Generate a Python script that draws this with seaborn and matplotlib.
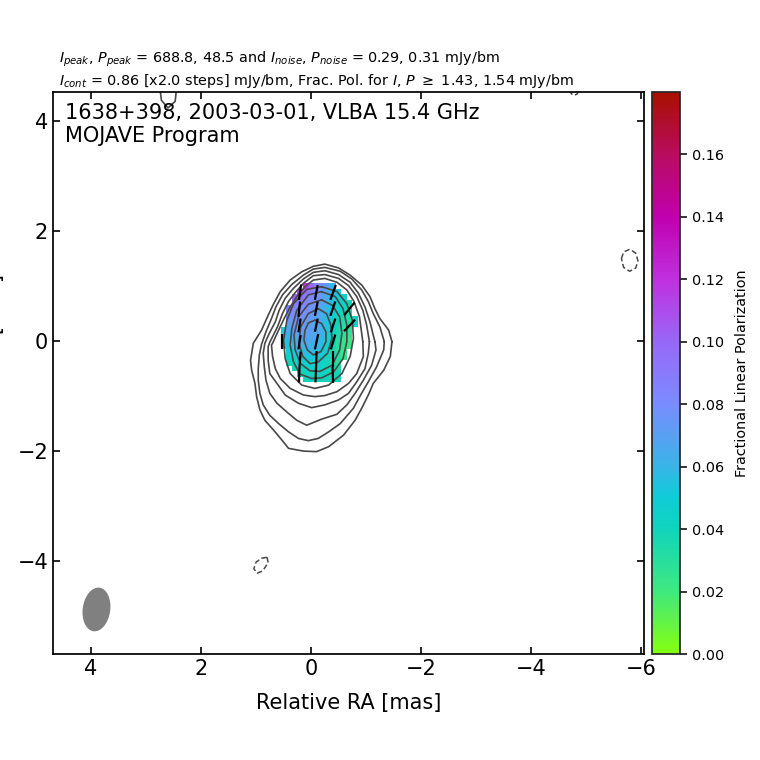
import numpy as np
import pandas as pd
import matplotlib
matplotlib.use('Agg')
import matplotlib.pyplot as plt
from matplotlib.colors import LinearSegmentedColormap
from matplotlib.patches import Ellipse
from matplotlib.ticker import FormatStrFormatter
import seaborn as sns

# contours, (RA, Dec) in mas, lowest level first
c1_ra = [-1.47, -1.41, -1.25, -1.16, -1.07, -.92, -.71, -.50, -.25, -.04, .17, .38, .56, .68, .78, .90, 1.05,
         1.10, 1.08, 1.02, .99, .93, .84, .68, .53, .41, .14, -.10, -.32, -.59, -.80, -.92, -1.04, -1.13, -1.32, -1.44]
c1_dec = [-.01, .20, .41, .59, .81, 1.02, 1.20, 1.33, 1.40, 1.36, 1.26, 1.11, .90, .68, .47, .20, -.04,
          -.35, -.53, -.77, -1.01, -1.25, -1.44, -1.62, -1.80, -1.95, -2.00, -2.01, -1.92, -1.71, -1.44, -1.22, -.98, -.77, -.53, -.28]
c2_ra = [-1.33, -1.25, -1.13, -1.04, -.92, -.74, -.53, -.25, -.04, .14, .35, .52, .64, .72, .82, .90,
         .94, .96, .96, .93, .87, .75, .59, .41, .23, .05, -.13, -.32, -.53, -.77, -.90, -1.04, -1.19, -1.32]
c2_dec = [-.01, .26, .50, .72, .93, 1.13, 1.27, 1.34, 1.31, 1.20, 1.03, .84, .62, .41, .17, -.06,
          -.25, -.50, -.71, -.95, -1.16, -1.35, -1.50, -1.65, -1.77, -1.81, -1.77, -1.65, -1.50, -1.22, -.98, -.74, -.47, -.16]
c3_ra = [-1.16, -1.07, -.98, -.86, -.71, -.50, -.25, -.04, .14, .32, .47, .58, .65, .76, .84,
         .87, .85, .82, .75, .62, .44, .26, .08, -.19, -.47, -.65, -.80, -.95, -1.10, -1.18]
c3_dec = [-.01, .35, .62, .87, 1.07, 1.21, 1.28, 1.25, 1.13, .96, .78, .56, .35, .14, -.04,
          -.22, -.47, -.71, -.95, -1.13, -1.29, -1.44, -1.53, -1.42, -1.33, -1.16, -.95, -.71, -.44, -.16]
c4_ra = [-1.06, -1.01, -.94, -.83, -.68, -.50, -.25, -.04, .14, .29, .41, .52, .61, .75,
         .78, .78, .75, .62, .47, .23, -.01, -.25, -.50, -.68, -.83, -.98, -1.04]
c4_dec = [-.01, .29, .56, .81, 1.01, 1.14, 1.21, 1.19, 1.05, .88, .72, .50, .26, -.02,
          -.10, -.35, -.59, -.77, -.98, -1.13, -1.21, -1.16, -1.07, -.95, -.74, -.50, -.22]
c5_ra = [-.94, -.88, -.78, -.65, -.47, -.25, -.04, .11, .26, .38, .49, .59, .70,
         .72, .70, .65, .56, .38, .14, -.07, -.25, -.47, -.68, -.83, -.95]
c5_dec = [-.01, .44, .72, .93, 1.07, 1.14, 1.11, .99, .81, .62, .41, .20, -.04,
          -.07, -.28, -.50, -.68, -.86, -.98, -1.01, -.99, -.92, -.77, -.59, -.28]
c6_ra = [-.19, -.47, -.65, -.75, -.77, -.71, -.56, -.32, -.07, .17, .38, .47, .50, .44, .32, .08]
c6_dec = [.99, .90, .68, .38, .05, -.28, -.59, -.80, -.86, -.80, -.59, -.32, .02, .38, .68, .94]
c7_ra = [-.19, -.44, -.58, -.65, -.65, -.58, -.41, -.19, -.01, .20, .32, .38, .35, .26, .05]
c7_dec = [.90, .81, .59, .29, -.01, -.32, -.56, -.67, -.68, -.60, -.38, -.07, .23, .56, .84]
c8_ra = [-.19, -.39, -.52, -.56, -.52, -.38, -.16, .02, .19, .29, .31, .23, .05]
c8_dec = [.75, .65, .44, .14, -.16, -.44, -.55, -.54, -.41, -.16, .11, .44, .67]
c9_ra = [-.13, -.28, -.36, -.38, -.30, -.13, .02, .15, .22, .19, .05]
c9_dec = [.59, .50, .29, .05, -.22, -.38, -.41, -.28, -.04, .26, .50]
c10_ra = [-.07, -.19, -.27, -.27, -.18, -.04, .07, .13, .11, .05]
c10_dec = [.38, .32, .17, -.01, -.19, -.25, -.16, .02, .20, .33]

# isolated patches away from the core
top_ra = [2.75, 2.72, 2.6, 2.47, 2.45, 2.5, 2.75]
top_dec = [4.62, 4.38, 4.24, 4.36, 4.55, 4.72, 4.62]
neg1_ra = [-5.64, -5.68, -5.79, -5.90, -5.94, -5.90, -5.79, -5.68, -5.64]
neg1_dec = [1.50, 1.62, 1.67, 1.60, 1.46, 1.33, 1.27, 1.34, 1.50]
neg2_ra = [.80, .78, .88, .98, 1.04, 1.00, .90, .80]
neg2_dec = [-3.93, -4.03, -4.18, -4.22, -4.14, -4.02, -3.95, -3.93]
neg3_ra = [-4.69, -4.74, -4.78, -4.83, -4.87]
neg3_dec = [4.56, 4.49, 4.47, 4.49, 4.56]

# fractional polarization cells, rows north to south
pol_ra = [.5, .4, .3, .2, .1, 0, -.1, -.2, -.3, -.4, -.5, -.6, -.7, -.8]
pol_dec = [1.0, .9, .8, .7, .6, .5, .4, .3, .2, .1, 0, -.1, -.2, -.3, -.4, -.5, -.6, -.7]
n = np.nan
pol_frac = [
    [n, n, n, n, .120, .100, .085, .078, .070, .060, n, n, n, n],
    [n, n, n, .115, .100, .088, .080, .074, .066, .058, .052, n, n, n],
    [n, n, .100, .095, .088, .082, .078, .072, .062, .055, .048, .044, n, n],
    [n, n, .090, .088, .085, .080, .076, .070, .062, .054, .047, .043, .040, n],
    [n, .085, .085, .082, .080, .076, .072, .066, .058, .050, .045, .040, .036, n],
    [n, .080, .082, .080, .078, .075, .070, .064, .056, .049, .043, .038, .034, n],
    [n, .075, .078, .077, .076, .073, .069, .063, .055, .047, .040, .035, .032, .042],
    [n, .070, .074, .074, .073, .071, .067, .061, .052, .045, .038, .032, .030, .045],
    [.050, .066, .072, .072, .072, .070, .068, .062, .052, .044, .036, .030, .028, n],
    [.048, .062, .068, .070, .070, .068, .066, .060, .050, .042, .034, .028, .025, n],
    [.046, .058, .064, .066, .067, .066, .064, .058, .049, .040, .032, .026, .022, n],
    [.045, .054, .060, .062, .063, .062, .060, .055, .047, .038, .030, .025, .022, n],
    [n, .048, .052, .056, .058, .058, .056, .051, .045, .036, .030, .022, n, n],
    [n, .044, .047, .050, .052, .053, .051, .047, .042, .035, .030, .024, n, n],
    [n, .040, .042, .044, .046, .047, .045, .043, .040, .034, .030, n, n, n],
    [n, n, .040, .041, .042, .044, .044, .042, .040, .036, .034, n, n, n],
    [n, n, n, .040, .041, .042, .042, .041, .040, .038, .038, n, n, n],
    [n, n, n, n, .040, .041, .041, .041, .040, .040, .040, n, n, n],
]

# EVPA sticks
stick_ra0 = [.18, .20, .19, .19, .19, .21, .52, -.12, -.12, -.12, -.13, -.10, -.09, -.45, -.44, -.44, -.44, -.39, -.39, -.79, -.80]
stick_dec0 = [1.03, .72, .41, .11, -.19, -.47, .13, 1.02, .72, .41, .13, -.18, -.47, 1.02, .72, .41, .12, -.18, -.47, .70, .39]
stick_ra1 = [.22, .23, .23, .23, .21, .22, .52, -.07, -.07, -.07, -.07, -.09, -.08, -.35, -.35, -.36, -.36, -.39, -.40, -.60, -.60]
stick_dec1 = [.75, .44, .16, -.15, -.47, -.75, -.15, .75, .46, .17, -.15, -.47, -.75, .75, .46, .16, -.15, -.47, -.76, .47, .18]

cbar_ticks = [0.00, 0.02, 0.04, 0.06, 0.08, 0.10, 0.12, 0.14, 0.16]
pol_colors = ['#84ff10', '#3fe880', '#10d4bc', '#10ccd8', '#38b4e8', '#7a8cff', '#9868f8',
              '#c030e0', '#c000b0', '#b80c60', '#a81000']
pol_stops = [0, .02, .04, .05, .06, .08, .10, .12, .14, .16, .18]

sns.set_style('ticks')
plt.rcParams['font.family'] = ['DejaVu Sans']
plt.rcParams['mathtext.default'] = 'it'
plt.rcParams['text.color'] = 'black'
plt.rcParams['axes.labelcolor'] = 'black'
plt.rcParams['xtick.color'] = 'black'
plt.rcParams['ytick.color'] = 'black'

fig = plt.figure(figsize=(7.6, 7.6), dpi=100)
ax = fig.add_axes([53 / 760, 106 / 760, 591 / 760, 562 / 760])
cax = fig.add_axes([652 / 760, 106 / 760, 28 / 760, 562 / 760])

cmap = LinearSegmentedColormap.from_list('pol', [(s / .18, c) for s, c in zip(pol_stops, pol_colors)])
mesh = ax.pcolormesh(pol_ra, pol_dec, np.array(pol_frac), cmap=cmap, vmin=0, vmax=.18,
                     shading='nearest', zorder=1)

contours = [(c1_ra, c1_dec), (c2_ra, c2_dec), (c3_ra, c3_dec), (c4_ra, c4_dec), (c5_ra, c5_dec),
            (c6_ra, c6_dec), (c7_ra, c7_dec), (c8_ra, c8_dec), (c9_ra, c9_dec), (c10_ra, c10_dec),
            (top_ra, top_dec)]
for ra, dec in contours:
    df = pd.DataFrame({'ra': ra + ra[:1], 'dec': dec + dec[:1]})
    sns.lineplot(data=df, x='ra', y='dec', sort=False, estimator=None, ax=ax,
                 color='#484848', lw=1.2, zorder=2)
for ra, dec in [(neg1_ra, neg1_dec), (neg2_ra, neg2_dec), (neg3_ra, neg3_dec)]:
    df = pd.DataFrame({'ra': ra, 'dec': dec})
    sns.lineplot(data=df, x='ra', y='dec', sort=False, estimator=None, ax=ax,
                 color='#484848', lw=1.1, ls=(0, (3.5, 1.8)), zorder=2)

for i in range(len(stick_ra0)):
    ax.plot([stick_ra0[i], stick_ra1[i]], [stick_dec0[i], stick_dec1[i]],
            color='black', lw=1.6, solid_capstyle='butt', zorder=3)

# restoring beam
ax.add_patch(Ellipse((3.9, -4.88), 0.5, 0.8, angle=8, facecolor='#808080', edgecolor='none', zorder=2))

ax.set_xlim(4.69, -6.05)
ax.set_ylim(-5.69, 4.53)
ax.set_xticks([4, 2, 0, -2, -4, -6])
ax.set_yticks([4, 2, 0, -2, -4])
ax.tick_params(direction='in', top=True, right=True, length=5, width=1.2, labelsize=15)
ax.set_xlabel('Relative RA [mas]', fontsize=15, labelpad=10)
ax.set_ylabel('Relative Dec [mas]', fontsize=15)
ax.yaxis.set_label_coords(-0.081, 0.5)
for s in ax.spines.values():
    s.set_linewidth(1.25)
    s.set_color('black')

ax.text(0.02, 0.98, '1638+398, 2003-03-01, VLBA 15.4 GHz\nMOJAVE Program', transform=ax.transAxes,
        fontsize=15, va='top', ha='left', linespacing=1.15)
fig.text(59 / 760, 1 - 63 / 760, r'$I_{peak}$, $P_{peak}$ = 688.8, 48.5 and $I_{noise}$, $P_{noise}$ = 0.29, 0.31 mJy/bm',
         fontsize=10.4, va='baseline')
fig.text(59 / 760, 1 - 85 / 760, r'$I_{cont}$ = 0.86 [x2.0 steps] mJy/bm, Frac. Pol. for $I$, $P$ $\geq$ 1.43, 1.54 mJy/bm',
         fontsize=10.4, va='baseline')

cb = fig.colorbar(mesh, cax=cax, ticks=cbar_ticks)
cb.ax.yaxis.set_major_formatter(FormatStrFormatter('%.2f'))
cb.ax.tick_params(labelsize=10.4, length=5, width=1.1, direction='out')
cb.set_label('Fractional Linear Polarization', fontsize=10.4, labelpad=8)
cb.outline.set_linewidth(1.25)

fig.savefig('out.png', dpi=100)
